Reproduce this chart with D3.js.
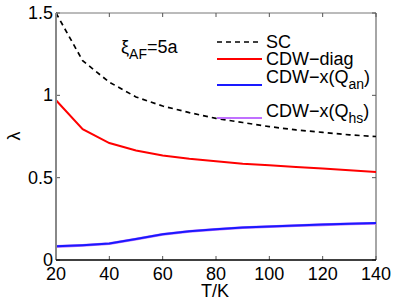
<!DOCTYPE html>
<html>
<head>
<meta charset="utf-8">
<script src="https://cdn.jsdelivr.net/npm/d3@7"></script>
<style>
  body { margin: 0; background: #fff; }
  svg text { font-family: "Liberation Sans", Arial, sans-serif; fill: #000; }
</style>
</head>
<body>
<svg id="chart" width="395" height="302"></svg>
<script>
// THE DATA
const temps = [20, 30, 40, 50, 60, 70, 80, 90, 100, 110, 120, 130, 140];
const scVals = [1.5, 1.21, 1.08, 0.99, 0.935, 0.895, 0.86, 0.835, 0.81, 0.79, 0.775, 0.76, 0.75];
const diagVals = [0.97, 0.795, 0.71, 0.665, 0.635, 0.615, 0.6, 0.585, 0.575, 0.565, 0.555, 0.545, 0.535];
const qanVals = [0.083, 0.09, 0.1, 0.128, 0.156, 0.175, 0.187, 0.197, 0.204, 0.21, 0.215, 0.22, 0.224];
const qhsVals = [0.082, 0.089, 0.099, 0.127, 0.155, 0.174, 0.186, 0.196, 0.203, 0.209, 0.214, 0.219, 0.223];
const xTicks = [20, 40, 60, 80, 100, 120, 140];
const yTicks = [0, 0.5, 1, 1.5];

const series = [
  {name: "SC", vals: scVals, color: "#000", dash: "5,4", w: 1.7},
  {name: "CDW\u2212diag", vals: diagVals, color: "#ff0000", dash: null, w: 2},
  {name: "CDW\u2212x(Q", sub: "an", vals: qanVals, color: "#1a1aff", dash: null, w: 2},
  {name: "CDW\u2212x(Q", sub: "hs", vals: qhsVals, color: "#c070ff", dash: null, w: 2.8}
];
// draw order: purple below blue so it shows as a fringe
const drawOrder = [0, 1, 3, 2];

// SETTING UP
const svg = d3.select("#chart");
const m = {left: 56, top: 13, right: 376, bottom: 260};

const x = d3.scaleLinear().domain([20, 140]).range([m.left, m.right]);
const y = d3.scaleLinear().domain([0, 1.5]).range([m.bottom, m.top]);

// frame
svg.append("line").attr("x1", m.left).attr("x2", m.right).attr("y1", m.top).attr("y2", m.top)
  .attr("stroke", "#777").attr("stroke-width", 1);
svg.append("line").attr("x1", m.right).attr("x2", m.right).attr("y1", m.top).attr("y2", m.bottom)
  .attr("stroke", "#888").attr("stroke-width", 1.5);

// ticks (inside, also mirrored on top and right)
const tl = 4;
xTicks.forEach(t => {
  svg.append("line").attr("x1", x(t)).attr("x2", x(t)).attr("y1", m.bottom).attr("y2", m.bottom - tl).attr("stroke", "#555");
  svg.append("line").attr("x1", x(t)).attr("x2", x(t)).attr("y1", m.top).attr("y2", m.top + tl).attr("stroke", "#555");
  svg.append("text").attr("x", x(t)).attr("y", 280).attr("text-anchor", "middle")
    .attr("font-size", 18).text(t);
});
yTicks.forEach(t => {
  svg.append("line").attr("x1", m.left).attr("x2", m.left + tl).attr("y1", y(t)).attr("y2", y(t)).attr("stroke", "#555");
  svg.append("line").attr("x1", m.right).attr("x2", m.right - tl).attr("y1", y(t)).attr("y2", y(t)).attr("stroke", "#555");
  svg.append("text").attr("x", 53).attr("y", y(t) + 6).attr("text-anchor", "end")
    .attr("font-size", 18).text(t);
});

// lines
const line = d3.line().x((d, i) => x(temps[i])).y(d => y(d));
drawOrder.forEach(k => {
  const s = series[k];
  svg.append("path").datum(s.vals)
    .attr("d", line)
    .attr("fill", "none")
    .attr("stroke", s.color)
    .attr("stroke-width", s.w)
    .attr("stroke-dasharray", s.dash);
});

// left and bottom axes on top
svg.append("line").attr("x1", m.left).attr("x2", m.left).attr("y1", m.top).attr("y2", m.bottom)
  .attr("stroke", "#888").attr("stroke-width", 2);
svg.append("line").attr("x1", m.left).attr("x2", m.right).attr("y1", m.bottom).attr("y2", m.bottom)
  .attr("stroke", "#000").attr("stroke-width", 1.5);

// legend
const legY = [42, 59, 85, 118];
const textY = [48, 65, 83, 117];
series.forEach((s, i) => {
  svg.append("line").attr("x1", 217).attr("x2", 262).attr("y1", legY[i]).attr("y2", legY[i])
    .attr("stroke", s.color).attr("stroke-width", s.dash ? 1.7 : 2)
    .attr("stroke-dasharray", s.dash);
  const t = svg.append("text").attr("x", 266).attr("y", textY[i]).attr("font-size", 18);
  t.append("tspan").text(s.name);
  if (s.sub) {
    t.append("tspan").attr("dy", 6).attr("font-size", 14).text(s.sub);
    t.append("tspan").attr("dy", -6).text(")");
  }
});

// annotation
const ann = svg.append("text").attr("x", 121).attr("y", 53).attr("font-size", 18);
ann.append("tspan").text("\u03be");
ann.append("tspan").attr("dy", 6).attr("font-size", 14).text("AF");
ann.append("tspan").attr("dy", -6).text("=5a");

// axis labels
svg.append("text").attr("x", 201).attr("y", 297).attr("font-size", 18).text("T/K");
svg.append("text").attr("transform", "translate(20,136) rotate(-90)").attr("text-anchor", "middle")
  .attr("font-size", 18).text("\u03bb");
</script>
</body>
</html>
